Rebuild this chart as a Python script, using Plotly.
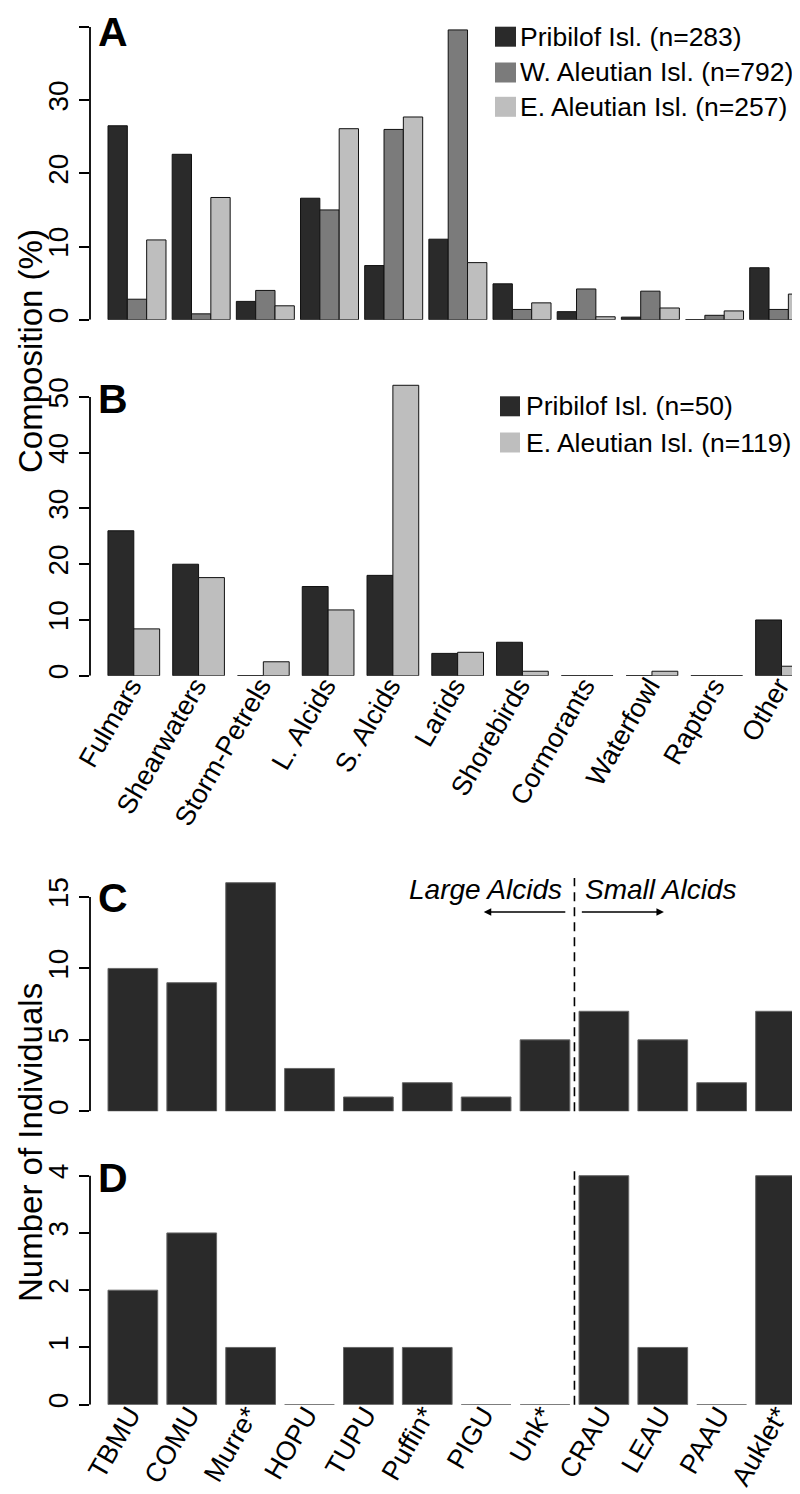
import plotly.graph_objects as go

# ---------------- data ----------------
groups = ["Fulmars", "Shearwaters", "Storm-Petrels", "L. Alcids", "S. Alcids", "Larids",
          "Shorebirds", "Cormorants", "Waterfowl", "Raptors", "Other"]

a_series = ["Pribilof Isl. (n=283)", "W. Aleutian Isl. (n=792)", "E. Aleutian Isl. (n=257)"]
a_pribilof = [26.5, 22.6, 2.5, 16.6, 7.4, 11.0, 4.9, 1.1, 0.35, 0.0, 7.1]
a_w_aleutian = [2.8, 0.8, 4.0, 15.0, 26.0, 39.6, 1.4, 4.2, 3.9, 0.6, 1.4]
a_e_aleutian = [10.9, 16.7, 1.9, 26.1, 27.7, 7.8, 2.3, 0.4, 1.6, 1.2, 3.5]

b_series = ["Pribilof Isl. (n=50)", "E. Aleutian Isl. (n=119)"]
b_pribilof = [26, 20, 0, 16, 18, 4, 6, 0, 0, 0, 10]
b_e_aleutian = [8.4, 17.6, 2.5, 11.8, 52.1, 4.2, 0.8, 0, 0.8, 0, 1.7]

species = ["TBMU", "COMU", "Murre*", "HOPU", "TUPU", "Puffin*", "PIGU", "Unk*",
           "CRAU", "LEAU", "PAAU", "Auklet*"]
c_counts = [10, 9, 16, 3, 1, 2, 1, 5, 7, 5, 2, 7]
d_counts = [2, 3, 1, 0, 1, 1, 0, 0, 4, 1, 0, 4]

a_ticks = [0, 10, 20, 30, 40]
b_ticks = [0, 10, 20, 30, 40, 50]
c_ticks = [0, 5, 10, 15]
d_ticks = [0, 1, 2, 3, 4]

# ---------------- styling / layout geometry ----------------
W, H = 800, 1494
ML = 82
PW = W - ML
FONT = "Liberation Sans, Arial, Helvetica, sans-serif"
DARK, MID, LIGHT = "#2a2a2a", "#7b7b7b", "#bebebe"


def px_x(p):
    return (p - ML) / PW


def px_y(p):
    return 1 - p / H


def xrange(center0_px, unit_px):
    r0 = -(center0_px - ML) / unit_px
    return [r0, r0 + PW / unit_px]


def ydom(zero_px, top_px):
    return [px_y(zero_px), px_y(top_px)]


def yrng(zero_px, top_px, unit_px):
    return [0, (zero_px - top_px) / unit_px]


fig = go.Figure()

# Panel A
wa = 19.33 / 64.17
for i, (vals, col, name) in enumerate(zip([a_pribilof, a_w_aleutian, a_e_aleutian],
                                          [DARK, MID, LIGHT], a_series)):
    fig.add_trace(go.Bar(x=groups, y=vals, name=name, xaxis="x", yaxis="y",
                         width=wa, offset=-1.5 * wa + i * wa,
                         marker=dict(color=col, line=dict(color="#111111", width=1)),
                         showlegend=False))
# Panel B
wb = 25.85 / 64.77
for i, (vals, col, name) in enumerate(zip([b_pribilof, b_e_aleutian], [DARK, LIGHT], b_series)):
    fig.add_trace(go.Bar(x=groups, y=vals, name=name, xaxis="x2", yaxis="y2",
                         width=wb, offset=-wb + i * wb,
                         marker=dict(color=col, line=dict(color="#111111", width=1)),
                         showlegend=False))
# Panels C, D
wc = 49.7 / 58.88
fig.add_trace(go.Bar(x=species, y=c_counts, xaxis="x3", yaxis="y3", width=wc, offset=-wc / 2,
                     marker=dict(color=DARK, line=dict(color="#666666", width=1)), showlegend=False))
fig.add_trace(go.Bar(x=species, y=d_counts, xaxis="x4", yaxis="y4", width=wc, offset=-wc / 2,
                     marker=dict(color=DARK, line=dict(color="#666666", width=1)), showlegend=False))

tickfont = dict(family=FONT, size=28, color="black")
xtickfont = dict(family=FONT, size=27, color="black")
common_y = dict(showgrid=False, zeroline=False, showline=False, ticks="outside", ticklen=10,
                tickwidth=1.8, tickcolor="black", tickangle=-90, tickfont=tickfont,
                automargin=False)
common_x = dict(showgrid=False, zeroline=False, showline=False, automargin=False,
                type="category")

layout = dict(
    width=W, height=H, margin=dict(l=ML, r=0, t=0, b=0),
    paper_bgcolor="white", plot_bgcolor="white", barmode="overlay",
    font=dict(family=FONT, color="black"),
    xaxis=dict(common_x, domain=[0, 1], anchor="y", range=xrange(129.0, 64.17), showticklabels=False),
    yaxis=dict(common_y, domain=ydom(311.7, 15), anchor="x", range=yrng(311.7, 15, 7.318), tickvals=a_ticks),
    xaxis2=dict(common_x, domain=[0, 1], anchor="y2", range=xrange(125.8, 64.77), tickangle=-60,
                tickfont=xtickfont, ticks="", ticklabelstandoff=-12, ticklabelshift=-3),
    yaxis2=dict(common_y, domain=ydom(667.7, 370), anchor="x2", range=yrng(667.7, 370, 5.574), tickvals=b_ticks),
    xaxis3=dict(common_x, domain=[0, 1], anchor="y3", range=xrange(124.85, 58.88), showticklabels=False),
    yaxis3=dict(common_y, domain=ydom(1103.3, 870), anchor="x3", range=yrng(1103.3, 870, 14.287), tickvals=c_ticks),
    xaxis4=dict(common_x, domain=[0, 1], anchor="y4", range=xrange(124.85, 58.88), tickangle=-60,
                tickfont=xtickfont, ticks="", ticklabelstandoff=-12, ticklabelshift=-3),
    yaxis4=dict(common_y, domain=ydom(1396.7, 1163.3), anchor="x4", range=yrng(1396.7, 1163.3, 57.25), tickvals=d_ticks),
)
fig.update_layout(**layout)

shapes = []
# R-style y axis lines from first to last tick
for yref, ticks in [("y", a_ticks), ("y2", b_ticks), ("y3", c_ticks), ("y4", d_ticks)]:
    shapes.append(dict(type="line", xref="paper", yref=yref, x0=0, x1=0, y0=ticks[0], y1=ticks[-1],
                       line=dict(color="black", width=1.8)))
# divider between large and small alcids
for xr, yr in [("x3", "y3 domain"), ("x4", "y4 domain")]:
    shapes.append(dict(type="line", xref=xr, yref=yr, x0=7.5, x1=7.5, y0=0, y1=1,
                       line=dict(color="black", width=1.6, dash="9px,6px")))

annotations = []
# legends (manual, to match square size)
legend_rows = [
    (a_series, [DARK, MID, LIGHT], [28.7, 64.5, 98.8], 487, 508, 510),
    (b_series, [DARK, LIGHT], [398.3, 434.5], 492, 512, 516),
]
for names, cols, ys, sx0, sx1, tx in legend_rows:
    for name, col, yc in zip(names, cols, ys):
        shapes.append(dict(type="rect", xref="paper", yref="paper", x0=px_x(sx0), x1=px_x(sx1),
                           y0=px_y(yc + 10), y1=px_y(yc - 10), fillcolor=col, line=dict(width=0)))
        annotations.append(dict(xref="paper", yref="paper", x=px_x(tx), y=px_y(yc), text=name,
                                showarrow=False, xanchor="left", yanchor="middle",
                                font=dict(family=FONT, size=26.5, color="black")))

# panel letters
for letter, yc in [("A", 24), ("B", 391.5), ("C", 890), ("D", 1169.5)]:
    annotations.append(dict(xref="paper", yref="paper", x=px_x(88), y=px_y(yc), text="<b>%s</b>" % letter,
                            showarrow=False, xanchor="left", yanchor="middle",
                            font=dict(family=FONT, size=41, color="black")))

# y axis titles
annotations.append(dict(xref="paper", yref="paper", x=px_x(2), y=px_y(343.5), text="Composition (%)",
                        textangle=-90, showarrow=False, xanchor="left", yanchor="middle",
                        font=dict(family=FONT, size=33, color="black")))
annotations.append(dict(xref="paper", yref="paper", x=px_x(2), y=px_y(1134.5), text="Number of Individuals",
                        textangle=-90, showarrow=False, xanchor="left", yanchor="middle",
                        font=dict(family=FONT, size=33, color="black")))

# Large / Small alcids labels with arrows
annotations.append(dict(xref="x3", yref="y3", x=7.32, y=15.5, text="<i>Large Alcids</i>", showarrow=False,
                        xanchor="right", yanchor="middle", font=dict(family=FONT, size=28, color="black")))
annotations.append(dict(xref="x3", yref="y3", x=7.65, y=15.5, text="<i>Small Alcids</i>", showarrow=False,
                        xanchor="left", yanchor="middle", font=dict(family=FONT, size=28, color="black")))
annotations.append(dict(xref="x3", yref="y3", x=5.96, y=13.95, ax=7.37, ay=13.95, axref="x3", ayref="y3",
                        text="", showarrow=True, arrowhead=2, arrowsize=1, arrowwidth=1.5, arrowcolor="black"))
annotations.append(dict(xref="x3", yref="y3", x=9.02, y=13.95, ax=7.60, ay=13.95, axref="x3", ayref="y3",
                        text="", showarrow=True, arrowhead=2, arrowsize=1, arrowwidth=1.5, arrowcolor="black"))

fig.update_layout(shapes=shapes, annotations=annotations)
fig.write_html("out.html")
